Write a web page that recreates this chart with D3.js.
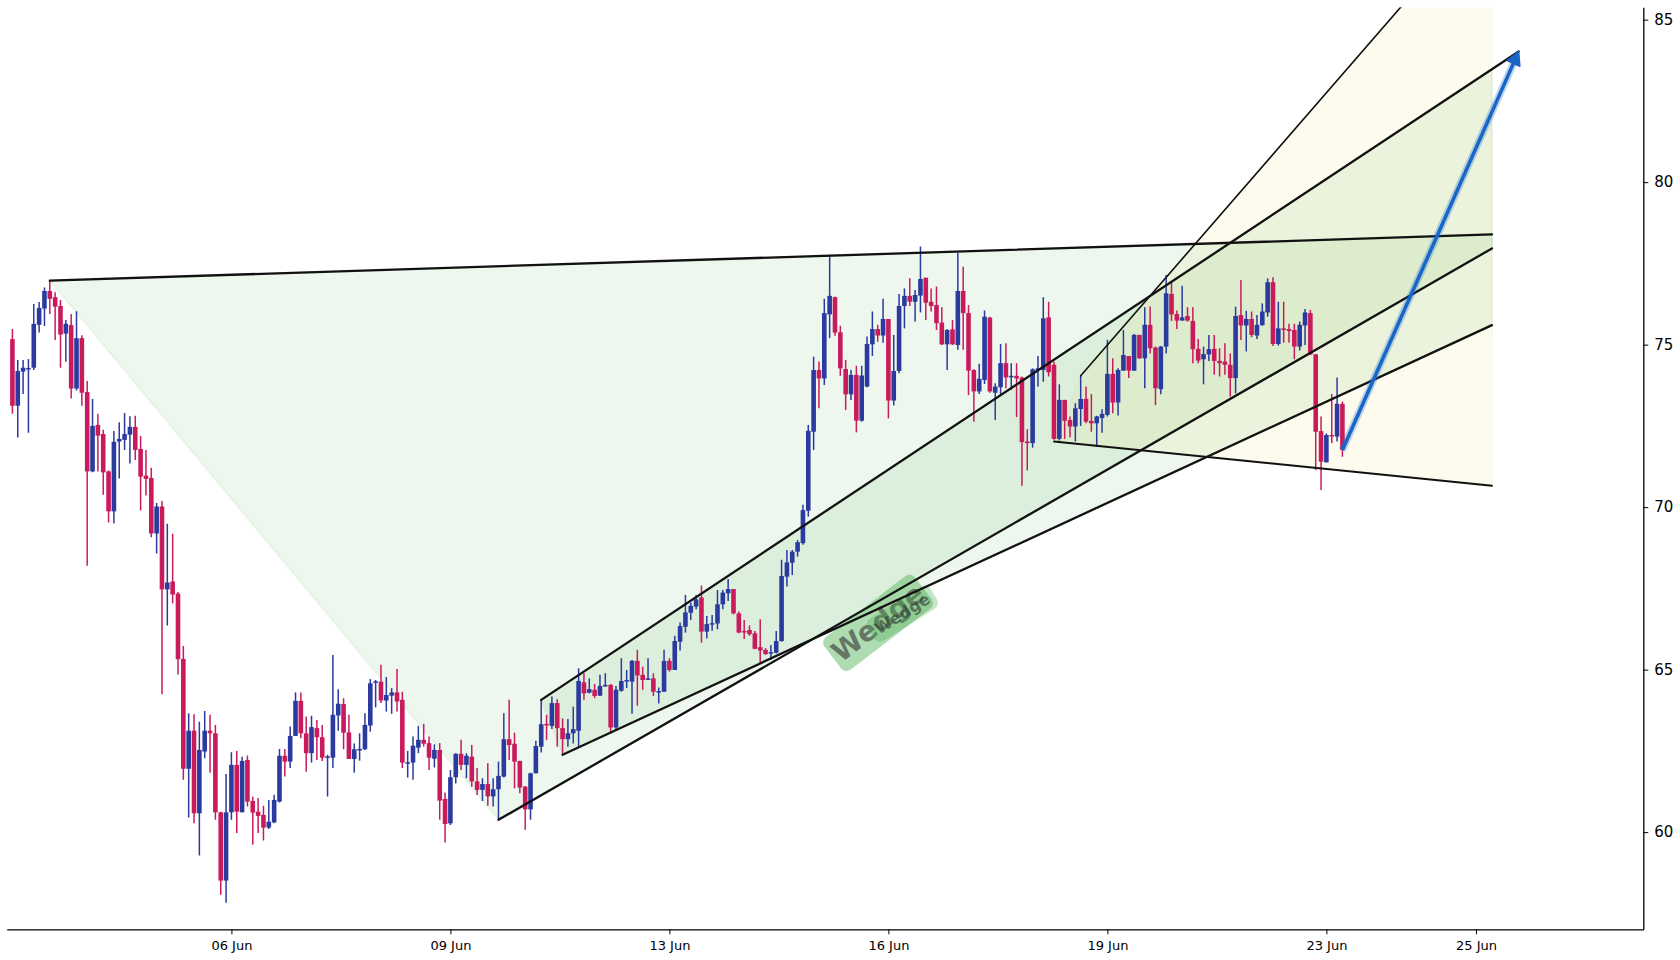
<!DOCTYPE html>
<html>
<head>
<meta charset="utf-8">
<script src="https://cdn.jsdelivr.net/npm/d3@7"></script>
<style>
  html, body { margin: 0; padding: 0; background: #fff; }
  svg { display: block; font-family: "DejaVu Sans", sans-serif; }
</style>
</head>
<body>
<svg id="chart"></svg>
<script>
// Candles (one per bar, index 0..249)
const open = [
  75.17,73.12,74.17,74.26,74.29,75.61,76.11,76.65,76.46,76.19,75.34,75.60,73.65,75.20,73.54,71.10,72.53,72.25,71.10,69.87,
  72.02,72.07,72.23,72.47,71.79,70.97,70.90,69.19,70.02,67.47,67.71,67.34,65.33,61.95,63.12,60.58,62.48,63.12,63.04,60.61,
  58.51,60.61,62.07,60.61,62.22,60.96,60.63,60.53,60.14,60.30,60.94,62.35,62.17,62.96,64.04,63.04,62.43,63.20,62.92,62.29,
  62.29,63.59,63.94,63.07,62.25,62.54,62.55,63.28,64.62,64.63,64.05,64.20,64.30,64.07,62.12,62.14,62.60,62.84,62.74,62.26,
  62.53,61.02,60.27,61.69,62.41,62.07,62.32,61.56,61.30,61.48,61.10,61.32,61.71,62.86,62.72,62.19,61.40,60.70,61.81,62.63,
  63.33,63.27,63.97,63.20,62.86,63.04,63.12,64.61,64.29,64.38,64.20,64.50,64.53,63.22,64.35,64.64,64.63,65.27,64.84,64.71,
  64.73,64.32,64.32,65.27,64.99,65.86,66.32,66.75,66.94,67.22,66.17,66.40,66.42,67.01,67.35,67.48,66.73,66.19,66.22,66.12,
  65.69,65.61,65.52,65.52,65.88,67.86,68.29,68.63,68.89,69.89,72.32,74.22,73.96,75.93,76.46,75.38,74.25,73.47,74.07,72.66,
  73.71,75.01,75.48,75.28,75.79,73.28,74.19,76.19,76.50,76.32,76.51,77.06,76.32,76.22,75.68,75.01,75.47,74.99,76.65,75.97,
  74.22,73.56,73.91,75.83,73.52,73.69,74.43,74.00,74.04,73.99,72.02,71.97,74.22,74.22,75.84,74.38,72.10,73.30,72.68,72.48,
  73.02,73.33,72.65,72.58,72.74,72.84,74.10,73.22,74.20,74.65,74.20,75.30,74.58,75.61,74.91,73.63,74.94,76.56,75.94,75.74,
  75.88,75.73,74.87,74.55,74.70,74.87,74.50,74.48,74.38,73.97,75.91,75.59,75.79,75.28,75.60,75.99,76.92,75.02,75.50,75.48,
  75.45,74.94,75.59,75.97,74.70,72.34,71.38,72.22,72.17,73.18
];
const high = [
  75.48,74.53,74.53,74.56,76.25,76.31,76.76,76.97,76.61,76.37,75.76,75.94,76.03,75.29,73.88,73.33,72.87,72.38,71.13,72.34,
  72.61,72.90,72.80,72.81,72.19,71.76,71.21,70.13,70.19,69.49,69.18,67.39,65.73,63.66,63.63,63.40,63.73,63.61,63.30,60.63,
  61.79,62.46,62.50,62.32,62.36,61.09,61.05,60.81,60.99,61.15,62.56,62.56,63.25,64.30,64.30,63.56,63.58,63.45,63.30,62.38,
  65.45,64.40,64.12,63.61,62.73,63.04,63.66,64.71,64.68,65.15,64.77,64.43,65.02,64.32,62.50,62.94,63.27,63.33,62.94,62.70,
  62.74,61.22,61.91,62.43,62.84,62.43,62.68,61.97,61.66,62.12,61.66,62.17,63.66,64.07,63.06,62.20,61.42,61.83,62.81,64.07,
  63.61,64.17,64.09,63.50,63.48,63.86,65.04,64.89,64.73,64.56,64.84,64.89,64.56,64.50,65.35,64.99,65.30,65.61,65.09,65.35,
  64.89,64.45,65.61,65.35,66.04,66.45,67.30,67.06,67.30,67.59,66.65,66.68,67.45,67.45,67.79,67.48,66.79,66.53,66.36,66.19,
  66.55,65.66,65.76,66.19,68.38,68.68,68.68,68.99,70.07,72.53,74.63,74.48,76.41,77.73,76.48,75.58,74.53,74.22,74.35,74.35,
  75.25,76.02,75.61,76.41,75.79,75.30,76.56,76.73,77.04,76.68,78.02,77.06,76.73,76.79,76.15,75.48,75.76,77.83,77.40,76.22,
  74.24,74.41,76.05,75.86,73.81,75.02,75.04,74.43,74.43,74.02,72.40,74.27,74.65,76.46,76.32,74.48,73.78,73.30,72.79,73.20,
  74.04,73.71,73.48,72.81,73.01,75.15,74.58,74.27,75.45,74.65,75.33,75.30,76.15,76.17,74.94,74.96,77.14,76.94,76.05,76.81,
  76.15,76.15,75.17,74.94,75.30,75.30,74.89,75.04,74.73,76.17,76.99,76.04,76.02,75.91,76.27,77.04,77.07,76.32,76.32,75.64,
  75.64,75.71,76.10,76.07,74.71,72.79,72.27,73.48,73.99,73.25
];
const low = [
  72.87,72.14,73.48,72.29,74.22,75.37,75.57,75.94,75.14,74.29,74.47,73.34,73.59,73.12,68.20,71.07,71.10,70.38,69.53,69.50,
  70.88,71.76,71.34,71.45,69.90,70.36,69.07,68.57,64.24,66.36,67.04,64.85,61.61,60.45,60.27,59.28,62.27,61.83,60.38,58.07,
  57.83,60.38,59.97,60.61,60.79,59.61,59.97,59.74,60.10,60.27,60.91,61.71,61.97,62.96,62.89,61.86,62.14,62.22,62.19,61.10,
  61.97,63.12,62.55,62.25,61.83,62.20,62.53,63.09,63.84,63.97,63.71,63.64,63.71,61.97,61.68,61.61,62.43,62.63,61.91,61.99,
  60.38,59.68,60.22,61.50,61.91,61.66,61.40,61.14,60.96,60.81,60.79,60.38,61.68,62.22,61.35,61.20,60.07,60.38,61.81,62.45,
  62.84,63.17,62.63,62.38,62.63,62.73,62.63,64.07,64.27,64.12,64.19,64.48,63.04,63.16,64.32,64.43,63.64,63.89,64.38,64.68,
  64.19,63.96,64.32,64.94,64.99,65.59,66.14,66.53,66.86,65.83,65.96,66.20,66.24,66.86,67.11,66.70,66.12,65.94,66.04,65.63,
  65.20,65.45,65.30,65.50,65.86,67.56,67.91,68.48,68.84,69.71,71.76,73.04,73.76,75.20,75.27,74.04,72.99,73.30,72.30,72.63,
  73.69,74.65,75.09,75.06,72.73,73.13,74.12,75.50,76.19,75.71,75.99,75.76,76.02,75.45,74.99,74.22,74.99,74.84,74.84,73.45,
  72.63,73.48,73.79,73.52,72.68,73.42,73.66,73.61,72.77,70.66,71.13,71.83,73.71,73.86,74.02,72.07,72.05,72.10,72.15,72.02,
  72.50,72.58,72.32,71.86,72.29,72.79,72.89,72.82,74.20,73.97,74.20,74.56,73.66,74.73,73.14,73.47,74.73,75.73,75.48,75.74,
  75.71,74.43,74.43,73.78,74.50,74.07,74.02,74.07,73.40,73.50,75.14,74.79,75.23,75.17,75.58,75.86,74.96,74.97,75.06,75.06,
  74.55,74.82,74.99,74.68,71.14,70.53,71.37,71.97,72.02,71.55
];
const close = [
  73.12,74.19,74.29,74.28,75.64,76.13,76.65,76.41,76.17,75.31,75.64,73.65,75.20,73.52,71.10,72.50,72.20,71.07,69.87,72.01,
  72.10,72.25,72.47,71.76,70.94,70.87,69.19,70.02,67.47,67.68,67.31,65.32,61.95,63.12,60.58,62.53,63.12,63.04,60.61,58.51,
  60.61,62.07,60.63,62.19,60.94,60.60,60.50,60.14,60.32,60.99,62.35,62.17,62.96,64.04,63.04,62.43,63.23,62.92,62.29,62.33,
  63.61,63.95,63.06,62.25,62.55,62.56,63.30,64.58,64.64,64.05,64.22,64.30,64.02,62.14,62.15,62.66,62.84,62.72,62.29,62.53,
  60.97,60.25,61.69,62.41,62.07,62.35,61.56,61.30,61.48,61.10,61.32,61.73,62.86,62.68,62.17,61.37,60.70,61.81,62.65,63.32,
  63.31,63.97,63.20,62.86,63.04,63.17,64.65,64.27,64.40,64.19,64.50,64.53,63.22,64.38,64.65,64.68,65.27,64.82,64.68,64.73,
  64.32,64.34,65.27,64.99,65.88,66.34,66.76,66.96,67.16,66.17,66.40,66.43,67.01,67.37,67.48,66.73,66.14,66.17,66.09,65.64,
  65.59,65.48,65.54,65.88,67.88,68.30,68.63,68.92,69.91,72.35,74.22,73.96,75.97,76.50,75.37,74.27,73.47,74.07,72.66,74.05,
  75.02,75.48,75.28,75.79,73.28,74.19,76.19,76.50,76.32,76.53,77.02,76.29,76.19,75.66,75.01,75.45,75.01,76.65,75.97,74.20,
  73.56,73.95,75.86,73.56,73.71,74.43,73.99,74.04,73.96,72.00,71.97,74.24,74.27,75.81,74.15,72.10,73.30,72.66,72.48,73.04,
  73.33,72.63,72.58,72.79,72.87,74.10,73.22,74.22,74.68,74.20,75.30,74.58,75.61,74.89,73.66,74.94,76.58,75.93,75.74,75.84,
  75.74,74.86,74.51,74.71,74.86,74.50,74.43,74.38,73.97,75.88,75.59,75.79,75.30,75.61,76.02,76.92,75.02,75.50,75.45,75.42,
  74.94,75.61,75.99,74.70,72.32,71.40,72.22,72.18,73.18,71.76
];

// Axis ticks
const dateTickIdx = [41, 82, 123, 164, 205, 246, 274];
const dateTickLabels = ["06 Jun", "09 Jun", "13 Jun", "16 Jun", "19 Jun", "23 Jun", "25 Jun"];
const priceTicks = [60, 65, 70, 75, 80, 85];

// Pattern drawing anchors: [bar index, price]
const outerTop = [[7, 76.97], [277, 78.39]];
const outerBase = [[91, 60.38], [277, 77.96]];
const channelTop = [[99, 64.07], [282, 84.02]];
const channelBase = [[103, 62.38], [277, 75.60]];
const rangeBase = [[195, 72.02], [277, 70.66]];
const rangeTop = [[200, 74.04], [277, 88.62]];
const targetArrow = [[249, 71.76], [282, 84.02]];
const bigTag = [162.05, 66.44];
const smallTag = [166.6, 66.72];

const width = 1680, height = 960;
const plot = { left: 6.7, right: 1643.3, top: 7.3, bottom: 929.3 };
const upColor = "#2b3a9e", downColor = "#c91a5c";

const svg = d3.select("#chart")
    .attr("width", width)
    .attr("height", height);

const x = d3.scaleLinear().domain([-1.07, 305.33]).range([plot.left, plot.right]);
const y = d3.scaleLinear().domain([57.01, 85.38]).range([plot.bottom, plot.top]);

svg.append("defs").append("clipPath")
    .attr("id", "plotClip")
    .append("rect")
    .attr("x", plot.left).attr("y", plot.top)
    .attr("width", plot.right - plot.left)
    .attr("height", plot.bottom - plot.top);

// price on a two-point line at a given bar index
function at(line, xi) {
    const [[x0, y0], [x1, y1]] = line;
    return y0 + (y1 - y0) * (xi - x0) / (x1 - x0);
}
const pt = d => [x(d[0]), y(d[1])];
const poly = pts => "M" + pts.map(p => pt(p).join(",")).join("L") + "Z";

// Shaded zones
const zones = svg.append("g").attr("clip-path", "url(#plotClip)");
zones.append("path")
    .attr("d", poly([outerTop[0], outerTop[1], outerBase[1], outerBase[0]]))
    .attr("fill", "#4caf50").attr("fill-opacity", 0.1)
    .attr("stroke", "#4caf50").attr("stroke-opacity", 0.08).attr("stroke-width", 2);
zones.append("path")
    .attr("d", poly([channelTop[0], [277, at(channelTop, 277)], channelBase[1], channelBase[0]]))
    .attr("fill", "#4caf50").attr("fill-opacity", 0.1)
    .attr("stroke", "#4caf50").attr("stroke-opacity", 0.08).attr("stroke-width", 2);
zones.append("path")
    .attr("d", poly([rangeBase[0], rangeTop[0], rangeTop[1], rangeBase[1]]))
    .attr("fill", "#ecd84a").attr("fill-opacity", 0.1)
    .attr("stroke", "#c8c060").attr("stroke-opacity", 0.08).attr("stroke-width", 2);

// Candles
const idx = d3.range(open.length);
const bodyW = 4.6;
const candles = svg.append("g").attr("clip-path", "url(#plotClip)");
candles.selectAll(".wick")
    .data(idx)
    .join("line")
    .attr("class", "wick")
    .attr("x1", i => x(i)).attr("x2", i => x(i))
    .attr("y1", i => y(high[i])).attr("y2", i => y(low[i]))
    .attr("stroke", i => close[i] >= open[i] ? upColor : downColor)
    .attr("stroke-width", 1.5);
candles.selectAll(".body")
    .data(idx)
    .join("rect")
    .attr("class", "body")
    .attr("x", i => x(i) - bodyW / 2)
    .attr("y", i => y(Math.max(open[i], close[i])))
    .attr("width", bodyW)
    .attr("height", i => Math.max(1.5, Math.abs(y(open[i]) - y(close[i]))))
    .attr("fill", i => close[i] >= open[i] ? upColor : downColor);

// Pattern tags
function tag(pos, w, h, angle, size, opacity) {
    const g = svg.append("g")
        .attr("transform", `translate(${x(pos[0])},${y(pos[1])}) rotate(${angle})`);
    g.append("rect")
        .attr("x", -w / 2).attr("y", -h / 2)
        .attr("width", w).attr("height", h)
        .attr("rx", 7)
        .attr("fill", "#4caf50").attr("fill-opacity", opacity);
    g.append("text")
        .attr("text-anchor", "middle")
        .attr("dominant-baseline", "central")
        .attr("font-size", size)
        .attr("font-weight", "bold")
        .attr("fill", "#333").attr("fill-opacity", 0.6)
        .text("Wedge");
}
tag(bigTag, 114, 41, -37.5, 28, 0.45);
tag(smallTag, 74, 26, -32, 16, 0.32);

// Trend lines
const lines = svg.append("g").attr("clip-path", "url(#plotClip)");
[[outerTop, 2.3], [outerBase, 2.3], [channelTop, 2.3], [channelBase, 2.3], [rangeBase, 1.9], [rangeTop, 1.6]]
    .forEach(([ln, sw]) => {
        lines.append("line")
            .attr("x1", x(ln[0][0])).attr("y1", y(ln[0][1]))
            .attr("x2", x(ln[1][0])).attr("y2", y(ln[1][1]))
            .attr("stroke", "#111").attr("stroke-width", sw)
            .attr("stroke-linecap", "round");
    });

// Target arrow
const [ax0, ay0] = pt(targetArrow[0]);
const [ax1, ay1] = pt(targetArrow[1]);
const len = Math.hypot(ax1 - ax0, ay1 - ay0);
const ux = (ax1 - ax0) / len, uy = (ay1 - ay0) / len;
const headL = 13, headW = 7;
const bx = ax1 - ux * headL, by = ay1 - uy * headL;
const arrow = svg.append("g");
arrow.append("line")
    .attr("x1", ax0).attr("y1", ay0).attr("x2", bx).attr("y2", by)
    .attr("stroke", "#1e6fd0").attr("stroke-opacity", 0.28).attr("stroke-width", 7.5);
arrow.append("line")
    .attr("x1", ax0).attr("y1", ay0).attr("x2", bx).attr("y2", by)
    .attr("stroke", "#1a66c8").attr("stroke-width", 3.6);
arrow.append("path")
    .attr("d", `M${ax1},${ay1}L${bx - uy * headW},${by + ux * headW}L${bx + uy * headW},${by - ux * headW}Z`)
    .attr("fill", "#1a66c8").attr("stroke", "#1a66c8").attr("stroke-width", 1.5)
    .attr("stroke-linejoin", "round");

// Axes
const xAxis = d3.axisBottom(x)
    .tickValues(dateTickIdx)
    .tickFormat((d, i) => dateTickLabels[i])
    .tickSize(5).tickSizeOuter(0).tickPadding(6);
const gx = svg.append("g")
    .attr("transform", `translate(0,${plot.bottom})`)
    .call(xAxis);
gx.selectAll("text").attr("font-size", 13).attr("fill", "#000").attr("font-family", "DejaVu Sans");

const yAxis = d3.axisRight(y)
    .tickValues(priceTicks)
    .tickSize(5).tickSizeOuter(0).tickPadding(6);
const gy = svg.append("g")
    .attr("transform", `translate(${plot.right},0)`)
    .call(yAxis);
gy.selectAll("text").attr("font-size", 15).attr("fill", "#000").attr("font-family", "DejaVu Sans");

[gx, gy].forEach(g => {
    g.select(".domain").attr("stroke", "#000").attr("stroke-width", 1.3);
    g.selectAll(".tick line").attr("stroke", "#000").attr("stroke-width", 1);
});
</script>
</body>
</html>
